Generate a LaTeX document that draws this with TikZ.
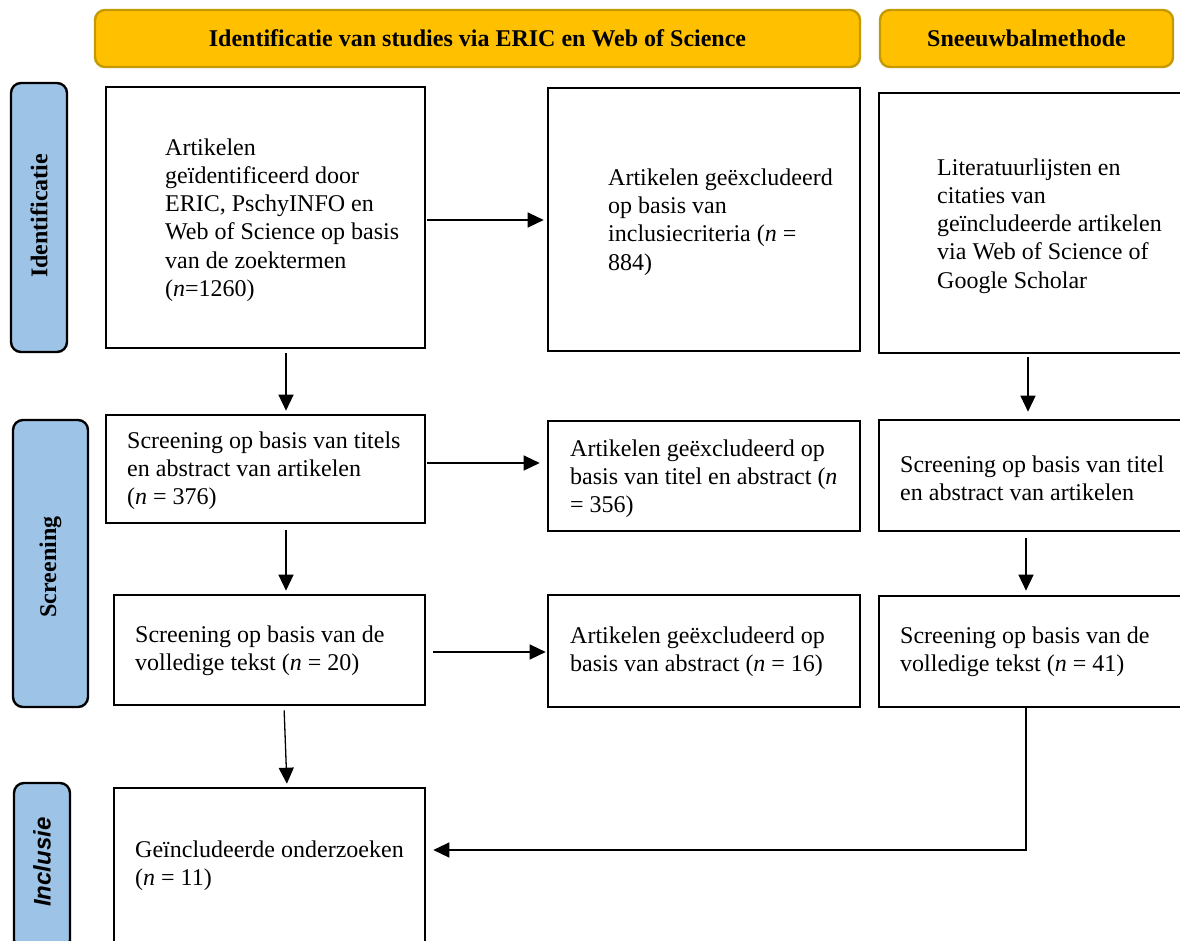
\documentclass[tikz,border=0pt]{standalone}
\usepackage{fontspec}
\setmainfont{Liberation Serif}
\newfontfamily\arialfont{Liberation Sans}
\usetikzlibrary{arrows.meta}
\definecolor{hdrfill}{HTML}{FFC000}
\definecolor{hdrline}{HTML}{C49A00}
\definecolor{sidefill}{HTML}{9DC3E6}
\begin{document}
\begin{tikzpicture}[x=1pt,y=-1pt,
  hdr/.style={draw=hdrline, fill=hdrfill, line width=2.4pt, rounded corners=10pt, inner sep=0pt,
    font=\fontsize{24}{28}\selectfont\bfseries},
  side/.style={draw=black, fill=sidefill, line width=2.4pt, rounded corners=10pt, inner sep=0pt},
  sidelbl/.style={rotate=90, inner sep=0pt, font=\fontsize{24}{28}\selectfont\bfseries},
  box/.style={draw=black, line width=2.6pt, inner sep=0pt},
  txt/.style={anchor=west, align=left, inner sep=0pt, font=\fontsize{24}{28.2}\selectfont},
  arr/.style={line width=1.3pt, -{Triangle[length=16pt,width=15pt]}}
]
\clip (0,0) rectangle (1180,940);
\fill[white] (0,0) rectangle (1180,940);

% headers
\node[hdr, minimum width=765, minimum height=57] (h1) at (477.5,38.5) {Identificatie van studies via ERIC en Web of Science};
\node[hdr, minimum width=293, minimum height=57] (h2) at (1026.5,38.5) {Sneeuwbalmethode};

% side labels
\node[side, minimum width=56, minimum height=269] (s1) at (39,217.5) {};
\node[sidelbl] (s1t) at (39,216) {Identificatie};
\node[side, minimum width=75, minimum height=287] (s2) at (50.5,563.5) {};
\node[sidelbl] (s2t) at (50.5,567) {Screening};
\node[side, minimum width=56, minimum height=167] (s3) at (42,866.5) {};
\node[sidelbl, font=\arialfont\fontsize{24}{28}\selectfont\bfseries\itshape] (s3t) at (42,862) {Inclusie};

% boxes
\node[box, minimum width=319, minimum height=261] (a1) at (265.5,217.5) {};
\node[box, minimum width=312, minimum height=263] (a2) at (704,219.5) {};
\node[box, minimum width=311, minimum height=260] (a3) at (1034.5,223) {};
\node[box, minimum width=319, minimum height=108] (b1) at (265.5,469) {};
\node[box, minimum width=312, minimum height=110] (b2) at (704,476) {};
\node[box, minimum width=311, minimum height=111] (b3) at (1034.5,475.5) {};
\node[box, minimum width=311, minimum height=110] (c1) at (269.5,650) {};
\node[box, minimum width=312, minimum height=112] (c2) at (704,651) {};
\node[box, minimum width=311, minimum height=111] (c3) at (1034.5,651.5) {};
\node[box, minimum width=311, minimum height=162] (d1) at (269.5,869) {};

% texts
\node[txt] (a1t) at (165,220) {Artikelen\\ge\"identificeerd door\\ERIC, PschyINFO en\\Web of Science op basis\\van de zoektermen\\(\textit{n}=1260)};
\node[txt] (a2t) at (608,222) {Artikelen ge\"excludeerd\\op basis van\\inclusiecriteria (\textit{n} =\\884)};
\node[txt] (a3t) at (937,226) {Literatuurlijsten en\\citaties van\\ge\"includeerde artikelen\\via Web of Science of\\Google Scholar};
\node[txt] (b1t) at (127,471) {Screening op basis van titels\\en abstract van artikelen\\(\textit{n} = 376)};
\node[txt] (b2t) at (570,479) {Artikelen ge\"excludeerd op\\basis van titel en abstract (\textit{n}\\= 356)};
\node[txt] (b3t) at (900,478) {Screening op basis van titel\\en abstract van artikelen};
\node[txt] (c1t) at (135,651) {Screening op basis van de\\volledige tekst (\textit{n} = 20)};
\node[txt] (c2t) at (570,652) {Artikelen ge\"excludeerd op\\basis van abstract (\textit{n} = 16)};
\node[txt] (c3t) at (900,652) {Screening op basis van de\\volledige tekst (\textit{n} = 41)};
\node[txt] (d1t) at (135,866) {Ge\"includeerde onderzoeken\\(\textit{n} = 11)};

% arrows
\draw[arr, shorten <=4pt, shorten >=3pt] ([xshift=20.5pt]a1.south) -- ([xshift=20.5pt]a1.south |- b1.north);
\draw[arr, shorten <=1pt, shorten >=3pt] ([yshift=-2.5pt]a1.east) -- ([yshift=-2.5pt]a1.east -| a2.west);
\draw[arr, shorten <=3pt, shorten >=7pt] ([xshift=-6.5pt]a3.south) -- ([xshift=-6.5pt]a3.south |- b3.north);
\draw[arr, shorten <=1pt, shorten >=7pt] ([yshift=6pt]b1.east) -- ([yshift=6pt]b1.east -| b2.west);
\draw[arr, shorten <=6pt, shorten >=3pt] ([xshift=20.5pt]b1.south) -- ([xshift=20.5pt]b1.south |- c1.north);
\draw[arr, shorten <=6pt, shorten >=4pt] ([xshift=-8.5pt]b3.south) -- ([xshift=-8.5pt]b3.south |- c3.north);
\draw[arr, shorten <=7pt, shorten >=1pt] ([yshift=-2pt]c1.east) -- ([yshift=-2pt]c1.east -| c2.west);
\draw[arr, shorten <=4pt, shorten >=3pt] ([xshift=14.5pt]c1.south) -- ([xshift=17.5pt]d1.north);
\draw[arr] ([xshift=-8.5pt]c3.south) |- ([yshift=19pt,xshift=7pt]d1.east);
\end{tikzpicture}
\end{document}
